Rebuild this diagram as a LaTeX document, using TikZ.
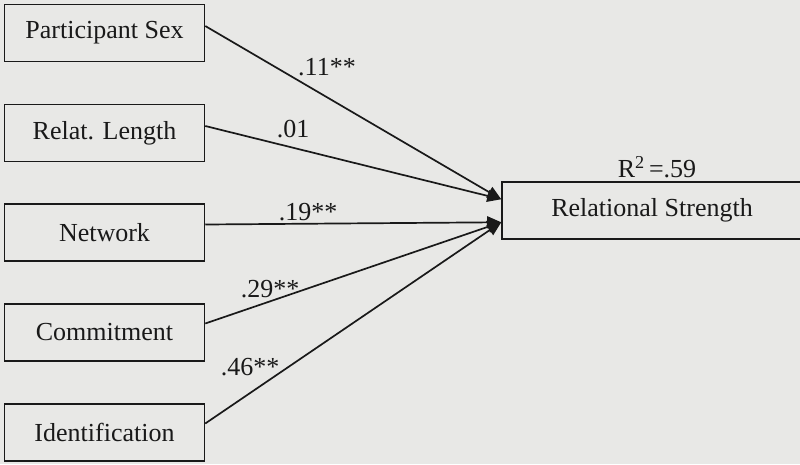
\documentclass[tikz,border=0pt]{standalone}
\usepackage{fontspec}
\setmainfont{Liberation Serif}
\usetikzlibrary{arrows.meta,calc}
\definecolor{bg}{RGB}{232,232,230}
\definecolor{ink}{RGB}{25,25,25}
\begin{document}
\begin{tikzpicture}[x=1pt,y=-1pt,
  box/.style={draw=ink, line width=1.5pt, minimum width=200pt, minimum height=57pt,
    inner sep=0pt, text=ink, font=\fontsize{26}{30}\selectfont},
  bigbox/.style={box, minimum width=300pt},
  conn/.style={draw=ink, line width=1.7pt, -{Triangle[length=14pt,width=12pt]}},
  lab/.style={text=ink, inner sep=0pt, font=\fontsize{26}{30}\selectfont}]
\fill[bg] (0,0) rectangle (800,464);
\useasboundingbox (0,0) rectangle (800,464);

\node[box] (ps) at (104.5,33) {Participant Sex};
\node[box] (rl) at (104.5,133) {Relat. Length};
\node[box] (nw) at (104.5,232.5) {Network};
\node[box] (cm) at (104.5,332.5) {Commitment};
\node[box] (id) at (104.5,432.5) {Identification};

\node[bigbox] (rs) at (652,210.5) {Relational Strength};
\node[lab] (r2) at (657,167) {R\textsuperscript{2}\,=.59};

\coordinate (tipA) at ($(rs.north west)+(0,18)$);
\coordinate (tipB) at ($(rs.north west)+(0,41)$);

\draw[conn] ([yshift=7pt]ps.east) -- (tipA);
\draw[conn] ([yshift=7pt]rl.east) -- (tipA);
\draw[conn] ([yshift=8pt]nw.east) -- (tipB);
\draw[conn] ([yshift=9pt]cm.east) -- (tipB);
\draw[conn] ([yshift=9pt]id.east) -- (tipB);

\node[lab] (l1) at (327,67) {.11**};
\node[lab] (l2) at (293,129) {.01};
\node[lab] (l3) at (308,212) {.19**};
\node[lab] (l4) at (270,289) {.29**};
\node[lab] (l5) at (250,367) {.46**};
\end{tikzpicture}
\end{document}
